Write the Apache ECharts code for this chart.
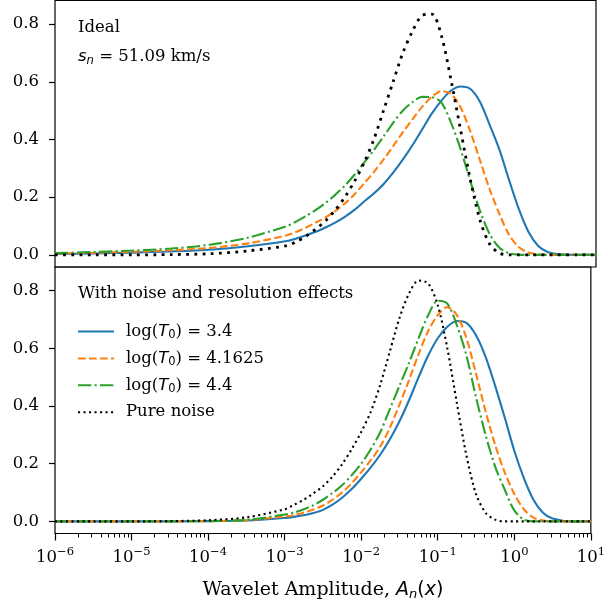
<!DOCTYPE html>
<html>
<head>
<meta charset="utf-8">
<script src="https://cdn.jsdelivr.net/npm/echarts@6/dist/echarts.min.js"></script>
<style>
html,body{margin:0;padding:0;background:#fff;}
#chart{width:608px;height:604px;}
</style>
</head>
<body>
<div id="chart"></div>
<script>
// log10 of wavelet amplitude A_n(x)
const logA = [-6, -5.5, -5, -4.5, -4, -3.5,
  -3, -2.875, -2.75, -2.625, -2.5, -2.375, -2.25, -2.125,
  -2, -1.875, -1.75, -1.625, -1.5, -1.375, -1.25, -1.125,
  -1, -0.875, -0.75, -0.625, -0.5, -0.375, -0.25, -0.125,
  0, 0.125, 0.25, 0.375, 0.5, 0.75, 1];

// Top panel: Ideal
const idealT34   = [0.003, 0.005, 0.008, 0.012, 0.018, 0.03,
  0.048, 0.057, 0.068, 0.08, 0.095, 0.112, 0.132, 0.156,
  0.185, 0.213, 0.245, 0.285, 0.33, 0.38, 0.435, 0.49,
  0.535, 0.57, 0.584, 0.575, 0.53, 0.45, 0.365, 0.26,
  0.16, 0.08, 0.032, 0.01, 0.003, 0, 0];
const idealT4163 = [0.005, 0.007, 0.011, 0.016, 0.024, 0.04,
  0.068, 0.08, 0.095, 0.112, 0.13, 0.152, 0.178, 0.21,
  0.248, 0.287, 0.33, 0.377, 0.425, 0.47, 0.513, 0.548,
  0.568, 0.558, 0.51, 0.427, 0.327, 0.227, 0.142, 0.07,
  0.027, 0.008, 0.002, 0, 0, 0, 0];
const idealT44   = [0.006, 0.01, 0.015, 0.022, 0.035, 0.06,
  0.1, 0.116, 0.135, 0.156, 0.18, 0.208, 0.24, 0.278,
  0.32, 0.363, 0.41, 0.458, 0.5, 0.53, 0.548, 0.547,
  0.528, 0.458, 0.365, 0.255, 0.152, 0.072, 0.025, 0.006,
  0.001, 0, 0, 0, 0, 0, 0];
const idealNoise = [0, 0, 0, 0.001, 0.004, 0.014,
  0.032, 0.046, 0.065, 0.09, 0.118, 0.155, 0.2, 0.255,
  0.32, 0.40, 0.50, 0.60, 0.70, 0.775, 0.83, 0.835,
  0.76, 0.605, 0.43, 0.26, 0.12, 0.037, 0.006, 0,
  0, 0, 0, 0, 0, 0, 0];

// Bottom panel: with noise and resolution effects
const noisyT34   = [0, 0, 0, 0, 0.001, 0.003,
  0.012, 0.016, 0.021, 0.029, 0.04, 0.058, 0.082, 0.112,
  0.148, 0.187, 0.232, 0.285, 0.347, 0.42, 0.5, 0.575,
  0.635, 0.675, 0.695, 0.688, 0.645, 0.57, 0.47, 0.36,
  0.245, 0.15, 0.075, 0.03, 0.01, 0, 0];
const noisyT4163 = [0, 0, 0, 0, 0.001, 0.004,
  0.017, 0.022, 0.03, 0.041, 0.055, 0.075, 0.1, 0.132,
  0.17, 0.212, 0.26, 0.325, 0.405, 0.49, 0.58, 0.66,
  0.715, 0.743, 0.715, 0.635, 0.512, 0.382, 0.265, 0.17,
  0.095, 0.042, 0.013, 0.003, 0, 0, 0];
const noisyT44   = [0, 0, 0, 0, 0.001, 0.005,
  0.024, 0.031, 0.042, 0.056, 0.075, 0.098, 0.125, 0.16,
  0.2, 0.25, 0.31, 0.39, 0.47, 0.55, 0.635, 0.715,
  0.765, 0.755, 0.68, 0.575, 0.43, 0.3, 0.19, 0.11,
  0.038, 0.006, 0, 0, 0, 0, 0];
const noisyNoise = [0, 0, 0, 0.001, 0.004, 0.014,
  0.042, 0.058, 0.075, 0.097, 0.122, 0.155, 0.198, 0.25,
  0.31, 0.38, 0.475, 0.59, 0.705, 0.79, 0.835, 0.825,
  0.75, 0.6, 0.41, 0.228, 0.095, 0.03, 0.006, 0,
  0, 0, 0, 0, 0, 0, 0];

const xTickExps = [-6, -5, -4, -3, -2, -1, 0, 1];
const yTicks = [0, 0.2, 0.4, 0.6, 0.8];
const seriesNames = ['log(T0) = 3.4', 'log(T0) = 4.1625', 'log(T0) = 4.4', 'Pure noise'];
const legendLabels = {
  'log(T0) = 3.4': '{r|log(}{i|T}{sub|0}{r|) = 3.4}',
  'log(T0) = 4.1625': '{r|log(}{i|T}{sub|0}{r|) = 4.1625}',
  'log(T0) = 4.4': '{r|log(}{i|T}{sub|0}{r|) = 4.4}',
  'Pure noise': '{r|Pure noise}'
};

const SERIF = 'DejaVu Serif';
const SANS = 'DejaVu Sans';
const FS = 16.5;

const minorTicks = [];
for (let n = -6; n < 1; n++) for (let k = 2; k <= 9; k++) minorTicks.push(n + Math.log10(k));

const pairs = (ys) => logA.map((x, i) => [x, ys[i]]);

const styles = [
  {color: '#1f77b4', type: 'solid'},
  {color: '#ff7f0e', type: [7.7, 3.3]},
  {color: '#2ca02c', type: [13.3, 3.3, 2.1, 3.3]},
  {color: '#000000', type: [2.1, 3.4]}
];

function mk(name, ys, idx, panel, width, dash) {
  return {
    name: name, type: 'line', xAxisIndex: panel === 0 ? 0 : 1, yAxisIndex: panel,
    data: pairs(ys), symbol: 'none', smooth: 0.3, silent: true,
    lineStyle: {color: styles[idx].color, width: width, type: dash || styles[idx].type, cap: 'butt'},
    itemStyle: {color: styles[idx].color},
    z: 2 + idx
  };
}

const richCommon = {
  r: {fontFamily: SERIF, fontSize: FS, fontWeight: 'normal', color: '#000'},
  i: {fontFamily: SANS, fontStyle: 'italic', fontWeight: 'normal', fontSize: FS, color: '#000'},
  sub: {fontFamily: SANS, fontSize: 11.5, fontWeight: 'normal', color: '#000', padding: [8, 0, 0, 0]},
  isub: {fontFamily: SANS, fontStyle: 'italic', fontWeight: 'normal', fontSize: 11.5, color: '#000', padding: [8, 0, 0, 0]}
};

function yAxisCfg(gi) {
  return {
    type: 'value', gridIndex: gi, min: -0.042, max: 0.882,
    axisLine: {show: false, onZero: false}, splitLine: {show: false},
    axisTick: {show: true, length: 6, customValues: yTicks, lineStyle: {color: '#000', width: 1.2}},
    axisLabel: {customValues: yTicks, formatter: v => v.toFixed(1), fontFamily: SERIF, fontSize: FS, color: '#000', margin: 16}
  };
}

const option = {
  animation: false,
  backgroundColor: '#fff',
  grid: [
    {left: 55, right: 12, top: 0.5, height: 266.5, show: true, borderColor: '#000', borderWidth: 1.2, backgroundColor: 'transparent'},
    {left: 55, right: 12, top: 267, height: 266.5, show: true, borderColor: '#000', borderWidth: 1.2, backgroundColor: 'transparent'}
  ],
  xAxis: [
    {type: 'value', gridIndex: 0, min: -6, max: 1, axisLine: {show: false, onZero: false}, axisTick: {show: false}, axisLabel: {show: false}, splitLine: {show: false}},
    {type: 'value', gridIndex: 1, min: -6, max: 1, position: 'bottom', axisLine: {show: false, onZero: false}, splitLine: {show: false},
     axisTick: {show: true, length: 7, customValues: xTickExps, lineStyle: {color: '#000', width: 1.2}},
     axisLabel: {customValues: xTickExps, margin: 13,
       formatter: v => { const n = Math.round(v); return '{b|10}{e|' + (n < 0 ? '\u2212' + (-n) : n) + '}'; },
       rich: {b: {fontFamily: SERIF, fontSize: FS, color: '#000'}, e: {fontFamily: SERIF, fontSize: 11.5, color: '#000', padding: [0, 0, 10, 0]}}},
     name: '{r|Wavelet Amplitude, }{i|A}{isub|n}{p|(}{i|x}{p|)}', nameLocation: 'middle', nameGap: 46,
     nameTextStyle: {rich: {
       r: {fontFamily: SERIF, fontSize: 19, color: '#000'},
       i: {fontFamily: SANS, fontStyle: 'italic', fontSize: 19, color: '#000'},
       p: {fontFamily: SANS, fontSize: 19, color: '#000'},
       isub: {fontFamily: SANS, fontStyle: 'italic', fontSize: 13, color: '#000', padding: [9, 0, 0, 0]}
     }}},
    {type: 'value', gridIndex: 1, min: -6, max: 1, position: 'bottom', axisLine: {show: false, onZero: false}, splitLine: {show: false},
     axisTick: {show: true, length: 4, customValues: minorTicks, lineStyle: {color: '#000', width: 1}},
     axisLabel: {show: false}}
  ],
  yAxis: [yAxisCfg(0), yAxisCfg(1)],
  title: [
    {text: 'Ideal', left: 78, top: 19, padding: 0, textStyle: {fontFamily: SERIF, fontSize: FS, fontWeight: 'normal', color: '#000'}},
    {text: '{i|s}{isub|n}{r| = 51.09 km/s}', left: 78, top: 47, padding: 0, textStyle: {fontWeight: 'normal', rich: richCommon}},
    {text: 'With noise and resolution effects', left: 78, top: 285, padding: 0, textStyle: {fontFamily: SERIF, fontSize: FS, fontWeight: 'normal', color: '#000'}}
  ],
  legend: {
    data: seriesNames, orient: 'vertical', left: 77, top: 323, padding: 0,
    itemWidth: 36, itemHeight: 14, itemGap: 8.4, selectedMode: false,
    itemStyle: {opacity: 0, borderWidth: 0},
    formatter: name => legendLabels[name],
    textStyle: {padding: [0, 0, 0, 7], rich: richCommon}
  },
  series: [
    mk('Ideal ' + seriesNames[0], idealT34, 0, 0, 2.1),
    mk('Ideal ' + seriesNames[1], idealT4163, 1, 0, 2.1),
    mk('Ideal ' + seriesNames[2], idealT44, 2, 0, 2.1),
    mk('Ideal ' + seriesNames[3], idealNoise, 3, 0, 2.8, [2.8, 5.4]),
    mk(seriesNames[0], noisyT34, 0, 1, 2.1),
    mk(seriesNames[1], noisyT4163, 1, 1, 2.1),
    mk(seriesNames[2], noisyT44, 2, 1, 2.1),
    mk(seriesNames[3], noisyNoise, 3, 1, 2.1)
  ]
};

const chart = echarts.init(document.getElementById('chart'), null, {renderer: 'canvas'});
chart.setOption(option);
</script>
</body>
</html>
